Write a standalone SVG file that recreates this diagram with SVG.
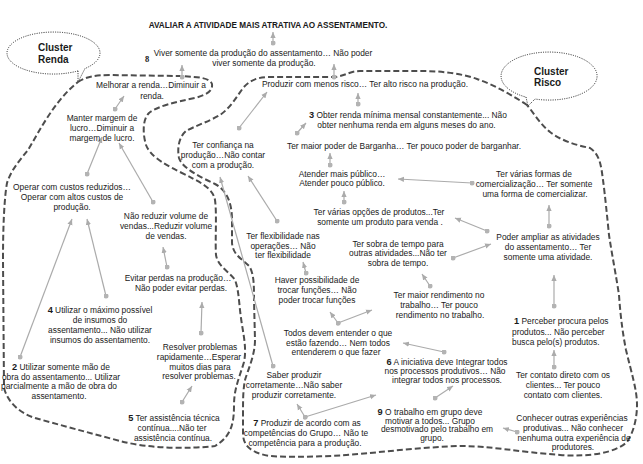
<svg xmlns="http://www.w3.org/2000/svg" width="643" height="464" viewBox="0 0 643 464">
<style>
text{font-family:"Liberation Sans",Arial,sans-serif;font-size:8.4px;fill:#1a1a1a;text-anchor:middle}
.l{text-anchor:start}
.b{font-weight:bold;font-size:9.2px}
.t{font-weight:bold;font-size:8.2px}
.cl{font-weight:bold;font-size:10px;text-anchor:start}
.dash{fill:none;stroke:#4d4d4d;stroke-width:2;stroke-dasharray:6 3}
.bub{fill:#fff;stroke:#222;stroke-width:1;stroke-dasharray:1 1.3}
.c{fill:none;stroke:#ababab;stroke-width:1.2;marker-start:url(#dot);marker-end:url(#arr)}
</style>
<defs>
<marker id="arr" viewBox="0 0 8 8" refX="8" refY="4" markerWidth="6" markerHeight="6" orient="auto" markerUnits="userSpaceOnUse"><path d="M0,0.5 L8,4 L0,7.5 Z" fill="#ababab"/></marker>
<marker id="dot" viewBox="0 0 6 6" refX="3" refY="3" markerWidth="5" markerHeight="5" markerUnits="userSpaceOnUse"><circle cx="3" cy="3" r="3" fill="#b3b3b3"/></marker>
</defs>
<rect width="643" height="464" fill="#fff"/>

<g id="clusters">
<path class="dash" d="M78,82 C85,77 95,75 110,75 L180,76 C200,77 210,78 212,84 C213,92 205,95 195,98 C175,102 158,106 149,113 C142,120 143,135 146,145 C150,155 160,162 180,172 C200,182 213,188 215,200 C217,215 215,240 216,255 C218,267 230,272 235,280 C239,290 239,305 241,318 C243,333 247,348 244,362 C240,376 234,388 234,405 C234,422 232,436 215,446 C190,449 150,449 120,441 C90,433 60,425 35,418 C20,413 8,403 4,388 L3,260 C3,230 4,200 7,183 C11,170 20,160 28,150 C40,130 55,100 78,82 Z"/>
<path class="dash" d="M527,105 C515,97 495,85 477,79 C460,73 440,71 420,71 L360,71 C350,71 345,76 335,77 L270,77 C258,77 250,80 243,88 C236,98 230,108 220,115 C210,121 195,126 186,131 C179,137 177,148 179,158 C182,168 200,177 215,184 C228,191 232,205 232,220 L232,243 C233,255 242,259 249,266 C254,273 254,285 254,300 L255,340 C255,355 248,370 245,380 C243,390 243,400 243,415 L243,435 C244,447 252,453 270,456 C300,458 340,456 370,453 C400,450 430,447 460,446 C490,446 520,452 560,455 C590,457 615,453 627,442 C635,430 637,415 637,405 C637,390 632,375 626,350 C622,330 620,310 619,295 C616,275 612,255 609,235 C607,215 605,195 603,180 C601,165 600,155 590,148 C575,145 560,140 550,132 C540,124 533,112 527,105 Z"/>
</g>

<g id="callout-renda">
<path class="bub" d="M78,70.9 L78,82 L85,68.5 A46.5,21 0 1 0 78,70.9"/>
<text class="cl" x="38" y="50.5">Cluster</text>
<text class="cl" x="38" y="63">Renda</text>
</g>
<g id="callout-risco">
<path class="bub" d="M526,97.1 L528,106 L535,99 A48,24 0 1 0 526,97.1"/>
<text class="cl" x="534" y="74.5">Cluster</text>
<text class="cl" x="534" y="85.5">Risco</text>
</g>

<g id="connectors">
<line class="c" x1="273" y1="43" x2="273" y2="32"/>
<line class="c" x1="334" y1="77" x2="334" y2="64"/>
<line class="c" x1="182" y1="77" x2="182" y2="65"/>
<line class="c" x1="115" y1="109" x2="124" y2="96"/>
<line class="c" x1="87" y1="174" x2="102" y2="137"/>
<line class="c" x1="153" y1="202" x2="119" y2="143"/>
<line class="c" x1="20" y1="357" x2="72" y2="219"/>
<line class="c" x1="106" y1="296" x2="87" y2="219"/>
<line class="c" x1="167" y1="267" x2="163" y2="247"/>
<line class="c" x1="201" y1="333" x2="202" y2="302"/>
<line class="c" x1="182" y1="402" x2="192" y2="386"/>
<line class="c" x1="358" y1="104" x2="358" y2="93"/>
<line class="c" x1="297" y1="133" x2="306" y2="123"/>
<line class="c" x1="239" y1="128" x2="267" y2="92"/>
<line class="c" x1="330" y1="165" x2="330" y2="153"/>
<line class="c" x1="344" y1="202" x2="344" y2="191"/>
<line class="c" x1="472" y1="183" x2="398" y2="179"/>
<line class="c" x1="549" y1="226" x2="549" y2="205"/>
<line class="c" x1="487" y1="231" x2="455" y2="218"/>
<line class="c" x1="453" y1="258" x2="491" y2="244"/>
<line class="c" x1="554" y1="306" x2="554" y2="275"/>
<line class="c" x1="554" y1="367" x2="554" y2="350"/>
<line class="c" x1="517" y1="432" x2="503" y2="428"/>
<line class="c" x1="435" y1="398" x2="453" y2="386"/>
<line class="c" x1="444" y1="352" x2="403" y2="343"/>
<line class="c" x1="338" y1="323" x2="330" y2="312"/>
<line class="c" x1="338" y1="323" x2="372" y2="310"/>
<line class="c" x1="430" y1="286" x2="422" y2="274"/>
<line class="c" x1="277" y1="221" x2="248" y2="176"/>
<line class="c" x1="306" y1="273" x2="303" y2="262"/>
<line class="c" x1="273" y1="366" x2="220" y2="177"/>
<line class="c" x1="305" y1="417" x2="297" y2="404"/>
<line class="c" x1="305" y1="417" x2="376" y2="395"/>
</g>

<g id="title"><text class="t" x="268" y="27.5">AVALIAR A ATIVIDADE MAIS ATRATIVA AO ASSENTAMENTO.</text></g>
<g id="n8"><text x="147" y="62" style="font-family:'Liberation Serif',serif;font-weight:bold;font-size:8.5px">8</text></g>
<g id="viver"><text x="263" y="56">Viver somente da produção do assentamento… Não poder</text><text x="264" y="65.5">viver somente da produção.</text></g>
<g id="melhorar"><text x="151" y="87.5">Melhorar a renda…Diminuir a</text><text x="152" y="98.5">renda.</text></g>
<g id="manter"><text x="102" y="121">Manter margem de</text><text x="102" y="131">lucro…Diminuir a</text><text x="102" y="140.5">margem de lucro.</text></g>
<g id="operar"><text x="72" y="190">Operar com custos reduzidos…</text><text x="72" y="200">Operar com altos custos de</text><text x="72" y="210">produção.</text></g>
<g id="naoreduzir"><text x="166" y="219">Não reduzir volume de</text><text x="166" y="229">vendas...Reduzir volume</text><text x="166" y="239">de vendas.</text></g>
<g id="evitar"><text x="178" y="281">Evitar perdas na produção…</text><text x="181" y="291">Não poder evitar perdas.</text></g>
<g id="resolver"><text x="200" y="350">Resolver problemas</text><text x="199" y="360">rapidamente…Esperar</text><text x="200" y="370">muitos dias para</text><text x="199" y="379">resolver problemas.</text></g>
<g id="n5"><text x="174" y="421"><tspan class="b">5</tspan> Ter assistência técnica</text><text x="172" y="431">contínua....Não ter</text><text x="173" y="440.5">assistência contínua.</text></g>
<g id="n4"><text x="100" y="313"><tspan class="b">4</tspan> Utilizar o máximo possível</text><text x="100" y="323">de insumos do</text><text x="100" y="333">assentamento... Não utilizar</text><text x="100" y="343">insumos do assentamento.</text></g>
<g id="n2"><text x="61" y="370"><tspan class="b">2</tspan> Utilizar somente mão de</text><text x="61" y="379.5">obra do assentamento... Utilizar</text><text x="59" y="389">parcialmente a mão de obra do</text><text x="59" y="399">assentamento.</text></g>
<g id="produzir"><text x="365" y="87">Produzir com menos risco… Ter alto risco na produção.</text></g>
<g id="n3"><text x="408" y="118"><tspan class="b">3</tspan> Obter renda mínima mensal constantemente... Não</text><text x="406.5" y="128">obter nenhuma renda em alguns meses do ano.</text></g>
<g id="barganha"><text x="404" y="149">Ter maior poder de Barganha… Ter pouco poder de barganhar.</text></g>
<g id="atender"><text x="342" y="177">Atender mais público…</text><text x="342" y="186">Atender pouco público.</text></g>
<g id="opcoes"><text x="379" y="215">Ter várias opções de produtos...Ter</text><text x="380" y="225">somente um produto para venda .</text></g>
<g id="formas"><text x="534" y="177">Ter várias formas de</text><text x="534" y="187">comercialização… Ter somente</text><text x="535" y="196.5">uma forma de comercializar.</text></g>
<g id="ampliar"><text x="548" y="240">Poder ampliar as atividades</text><text x="548" y="250">do assentamento… Ter</text><text x="548" y="260">somente uma atividade.</text></g>
<g id="sobra"><text x="398" y="247">Ter sobra de tempo para</text><text x="398" y="256">outras atividades...Não ter</text><text x="398" y="265.5">sobra de tempo.</text></g>
<g id="rendimento"><text x="439" y="298">Ter maior rendimento no</text><text x="439" y="308">trabalho… Ter pouco</text><text x="440" y="318">rendimento no trabalho.</text></g>
<g id="flexibilidade"><text x="283" y="239">Ter flexibilidade nas</text><text x="283" y="249">operações… Não</text><text x="283" y="258">ter flexibilidade</text></g>
<g id="haver"><text x="317" y="283">Haver possibilidade de</text><text x="317" y="293">trocar funções… Não</text><text x="317" y="303">poder trocar funções</text></g>
<g id="confianca"><text x="223" y="147.5">Ter confiança na</text><text x="223" y="158">produção…Não contar</text><text x="223" y="168">com a produção.</text></g>
<g id="todos"><text x="338" y="336">Todos devem entender o que</text><text x="338" y="346">estão fazendo… Nem todos</text><text x="336" y="355">entenderem o que fazer</text></g>
<g id="n6"><text x="447" y="365"><tspan class="b">6</tspan> A iniciativa deve Integrar todos</text><text x="445" y="374">nos processos produtivos… Não</text><text x="447" y="382.5">integrar todos nos processos.</text></g>
<g id="n9"><text x="430" y="415"><tspan class="b">9</tspan> O trabalho em grupo deve</text><text x="430" y="423.5">motivar a todos... Grupo</text><text x="437" y="432">desmotivado pelo trabalho em</text><text x="432" y="440.5">grupo.</text></g>
<g id="saber"><text x="294" y="378">Saber produzir</text><text x="294" y="388">corretamente…Não saber</text><text x="294" y="397.5">produzir corretamente.</text></g>
<g id="n7"><text x="307" y="426"><tspan class="b">7</tspan> Produzir de acordo com as</text><text x="306" y="435.5">competências do Grupo… Não te</text><text x="305" y="446">competência para a produção.</text></g>
<g id="perceber"><text class="l" x="514" y="324"><tspan class="b">1</tspan> Perceber procura pelos</text><text class="l" x="512" y="334.5">produtos... Não perceber</text><text class="l" x="512" y="345">busca pelo(s) produtos.</text></g>
<g id="contato"><text x="563" y="378">Ter contato direto com os</text><text x="563" y="388">clientes... Ter pouco</text><text x="563" y="398">contato com clientes.</text></g>
<g id="conhecer"><text x="572" y="421">Conhecer outras experiências</text><text x="573" y="431">produtivas... Não conhecer</text><text x="574" y="440.5">nenhuma outra experiência de</text><text x="573" y="450">produtores.</text></g>
</svg>
